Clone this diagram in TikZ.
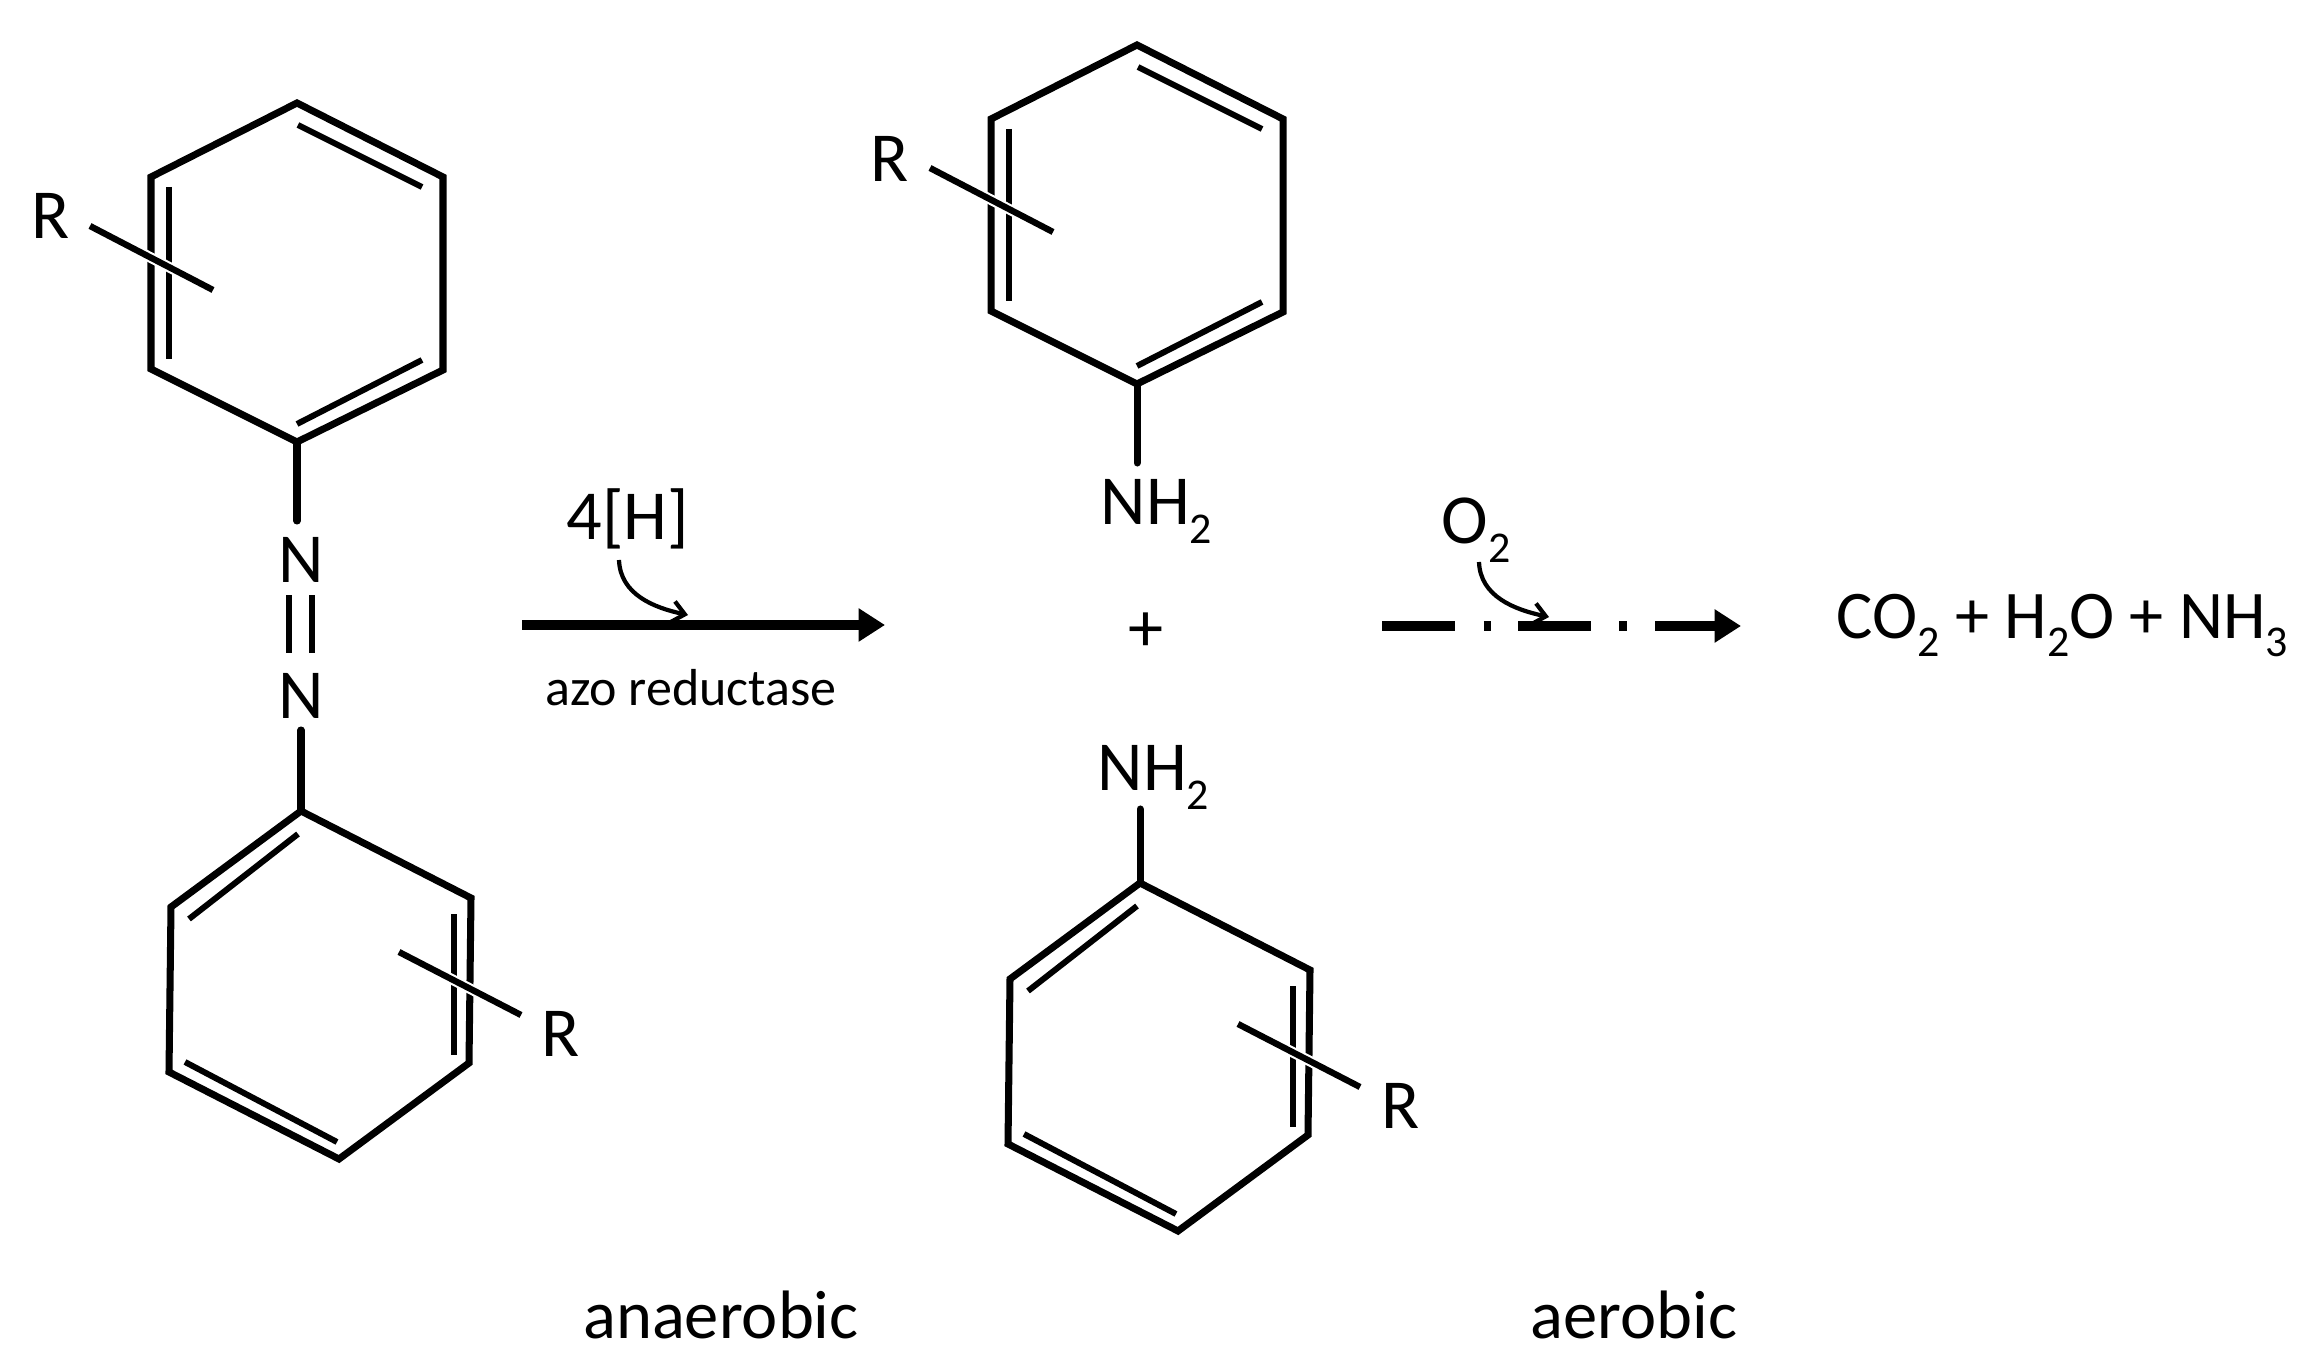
\documentclass[tikz,border=0pt]{standalone}
\usepackage{fontspec}
\setmainfont{Carlito}
\usetikzlibrary{arrows.meta}
\newcommand{\lowsub}[1]{\raisebox{-0.26em}{\fontsize{12.5}{13}\selectfont #1}}
\tikzset{
  bond/.style={line width=2pt, line cap=round, line join=miter},
  inbond/.style={line width=1.7pt},
  subst/.style={line width=1.8pt, preaction={draw=white, line width=3pt}},
  lab/.style={font=\fontsize{20}{24}\selectfont, inner sep=0pt},
  prodlab/.style={font=\fontsize{19.4}{24}\selectfont, inner sep=0pt},
  minilab/.style={font=\fontsize{14.8}{20}\selectfont, inner sep=0pt},
  wordlab/.style={font=\fontsize{19.5}{24}\selectfont, inner sep=0pt},
  edgemain/.style={line width=2.6pt, -{Triangle[length=7.5pt,width=9pt]}},
  edgeair/.style={edgemain, dash pattern=on 20.8pt off 8.2pt on 2pt off 7.7pt on 20.8pt off 8pt on 2.3pt off 8pt on 40pt off 0pt},
  edgein/.style={line width=1.2pt, -{Straight Barb[length=3.5pt,width=6pt]}}
}
\tikzset{ringup/.pic={
  \coordinate (1) at (0,0);
  \coordinate (2) at (146,74);
  \coordinate (3) at (146,267);
  \coordinate (4) at (0,339);
  \coordinate (5) at (-146,266);
  \coordinate (6) at (-146,74);
  \draw[bond] (1) -- (2) -- (3) -- (4) -- (5) -- (6) -- cycle;
  \draw[inbond] (1,22) -- (125,84);
  \draw[inbond] (125,257) -- (0,321);
  \draw[inbond] (-128,84) -- (-128,256);
  \draw[subst] (-207,123) -- (-84,187);
}}
\tikzset{ringdown/.pic={
  \coordinate (1) at (0,0);
  \coordinate (2) at (170,87);
  \coordinate (3) at (168,252);
  \coordinate (4) at (38,348);
  \coordinate (5) at (-132,261);
  \coordinate (6) at (-130,96);
  \draw[bond] (1) -- (2) -- (3) -- (4) -- (5) -- (6) -- cycle;
  \draw[inbond] (-3,23) -- (-112,108);
  \draw[inbond] (153,103) -- (153,244);
  \draw[inbond] (-116,251) -- (36,331);
  \draw[subst] (98,141) -- (220,204);
}}

\begin{document}
\begin{tikzpicture}[x=0.1mm, y=-0.1mm]
\useasboundingbox (0,0) rectangle (2322,1371);
\pic (a) at (297,103) {ringup};
\pic (b) at (301,811) {ringdown};
\pic (c) at (1137,45) {ringup};
\pic (d) at (1140,883) {ringdown};
\node[lab] (ra) at (51,216) {R};
\node[lab] (rb) at (561,1034) {R};
\node[lab] (rc) at (890,159) {R};
\node[lab] (rd) at (1401,1106) {R};
\node[lab] (na) at (301,560) {N};
\node[lab] (nb) at (301,696) {N};
\draw[bond] (a4) -- ++(0,79) coordinate (aend);
\draw[bond] (b1) -- ++(0,-81) coordinate (bend);
\draw[inbond] ([xshift=-1.2mm, yshift=-1.2mm]na.south) -- ([xshift=-1.2mm, yshift=2mm]nb.north);
\draw[inbond] ([xshift=1.1mm, yshift=-1.2mm]na.south) -- ([xshift=1.1mm, yshift=2mm]nb.north);
\node[lab, anchor=base west] (nhc) at (1100,525) {NH\lowsub{2}};
\node[lab, anchor=base west] (nhd) at (1097,791) {NH\lowsub{2}};
\draw[bond] (c4) -- ++(0,79) coordinate (cend);
\draw[bond] (d1) -- ++(0,-74) coordinate (dend);
\node[lab] (plus) at (1146,632) {+};
\node[lab] (hyd) at (628,519) {4[H]};
\node[minilab] (azo) at (691,688) {azo reductase};
\coordinate (s1) at (522,625);
\coordinate (e1) at (885,625);
\draw[edgemain] (s1) -- (e1);
\coordinate (h1) at (619,560);
\coordinate (h2) at (688,615);
\draw[edgein] (h1) to[out=-88, in=168] (h2);
\node[lab, anchor=base west] (oxy) at (1441,544) {O\lowsub{2}};
\coordinate (s2) at (1382,626);
\coordinate (e2) at (1741,626);
\draw[edgeair] (s2) -- (e2);
\coordinate (o1) at (1479,562);
\coordinate (o2) at (1549,617);
\draw[edgein] (o1) to[out=-88, in=168] (o2);
\node[prodlab, anchor=base west] (prod) at (1836,639) {CO\lowsub{2} + H\lowsub{2}O + NH\lowsub{3}};
\node[wordlab] (ana) at (721,1315) {anaerobic};
\node[wordlab] (aer) at (1634,1315) {aerobic};
\end{tikzpicture}
\end{document}
